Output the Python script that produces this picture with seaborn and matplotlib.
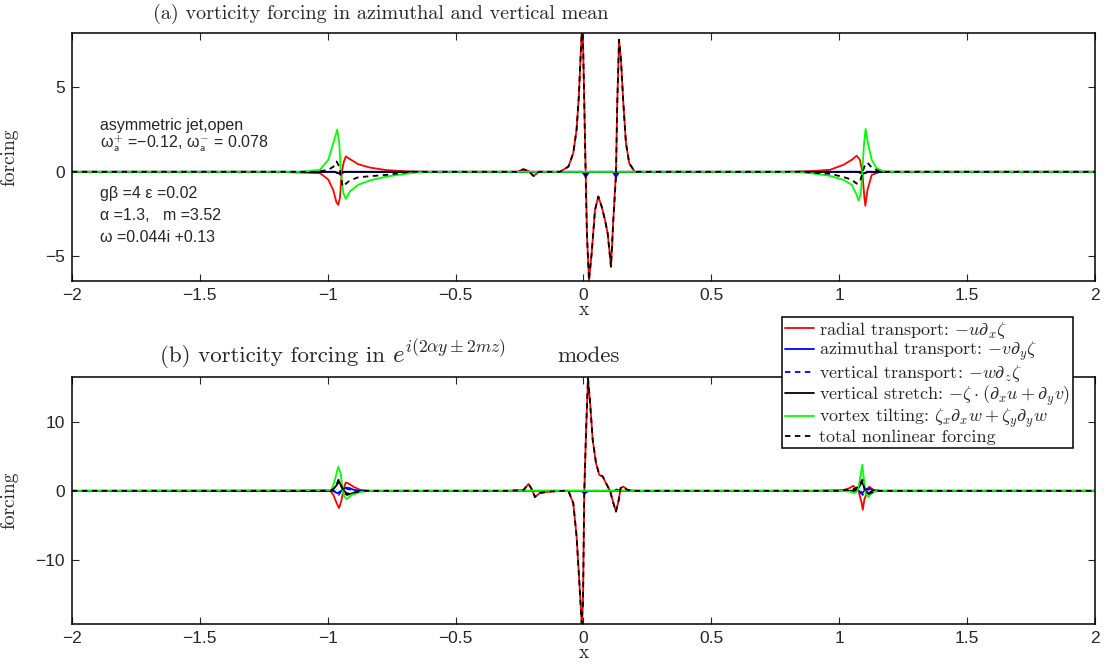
import numpy as np
import pandas as pd
import matplotlib
matplotlib.use('Agg')
import matplotlib.pyplot as plt
import seaborn as sns
from matplotlib.ticker import FuncFormatter

# ---- panel (a): azimuthal & vertical mean ----
a_red_x = [-2, -1.2, -1.03, -0.998, -0.978, -0.966, -0.959, -0.952, -0.945, -0.937, -0.929, -0.913,
           -0.881, -0.835, -0.77, -0.68, -0.6, -0.26, -0.235, -0.215, -0.195, -0.175, -0.092, -0.059,
           -0.04, -0.027, -0.018, -0.012, -0.007, -0.002, 0.003, 0.0085, 0.0137, 0.0215, 0.032, 0.045,
           0.058, 0.071, 0.084, 0.0945, 0.1075, 0.1166, 0.127, 0.132, 0.139, 0.1466, 0.1557, 0.166,
           0.179, 0.201, 0.3, 0.8, 0.85, 0.9, 0.964, 1.016, 1.049, 1.068, 1.081, 1.090, 1.098, 1.102,
           1.110, 1.127, 1.16, 2]
a_red_y = [0, 0, -0.08, -0.45, -1.1, -1.8, -1.95, -1.5, 0, 0.6, 0.91, 0.75,
           0.45, 0.25, 0.1, 0.02, 0, 0, 0.15, 0.05, -0.25, 0, 0, 0.31,
           1.1, 2.5, 4.5, 6.6, 8.2, 7.8, 4.1, 0, -3.8, -6.4, -4.8, -2.25,
           -1.46, -2.05, -2.84, -3.63, -5.6, -2.84, 0, 4.06, 7.8, 6.6, 4.06, 1.7,
           0.5, 0, 0, 0, 0.02, 0.05, 0.12, 0.41, 0.71, 0.95, 0.71, 0, -1.46, -2.0,
           -1.1, -0.18, 0, 0]

a_blue_x = [-2, -0.97, -0.952, -0.935, -0.005, 0.009, 0.022, 0.114, 0.127, 0.14, 1.075, 1.092, 1.11, 2]
a_blue_y = [0, 0, -0.12, 0, 0, -0.3, 0, 0, -0.3, 0, 0, -0.12, 0, 0]

a_bluedash_x = [-2, -0.97, -0.955, -0.94, 1.08, 1.095, 1.11, 2]
a_bluedash_y = [0, 0, 0.05, 0, 0, 0.05, 0, 0]

a_black_x = [-2, -0.975, -0.955, -0.93, -0.005, 0.009, 0.022, 0.114, 0.127, 0.14, 1.07, 1.095, 1.115, 2]
a_black_y = [0, 0, -0.1, 0, 0, -0.1, 0, 0, -0.1, 0, 0, -0.1, 0, 0]

a_green_x = [-2, -1.1, -1.03, -0.998, -0.978, -0.963, -0.955, -0.949, -0.939, -0.929, -0.913, -0.881,
             -0.835, -0.77, -0.678, -0.62, 0.75, 0.85, 0.90, 0.964, 1.016, 1.049, 1.068, 1.076,
             1.084, 1.090, 1.097, 1.103, 1.112, 1.127, 1.146, 1.179, 2]
a_green_y = [0, 0, 0.12, 0.71, 1.7, 2.49, 1.7, 0, -1.26, -1.6, -1.16, -0.77,
             -0.51, -0.28, -0.08, 0, 0, -0.03, -0.1, -0.24, -0.47, -0.77, -1.36, -1.7,
             -1.3, 0, 1.7, 2.53, 1.7, 0.71, 0.22, 0, 0]

a_total_x = [-2, -1.05, -1.0, -0.978, -0.965, -0.955, -0.942, -0.913, -0.88, -0.835, -0.77, -0.68,
             -0.26, -0.235, -0.215, -0.195, -0.175, -0.092, -0.059, -0.04, -0.027, -0.018, -0.012,
             -0.007, -0.002, 0.003, 0.0085, 0.0137, 0.0215, 0.032, 0.045, 0.058, 0.071, 0.084,
             0.0945, 0.1075, 0.1166, 0.127, 0.132, 0.139, 0.1466, 0.1557, 0.166, 0.179, 0.201,
             0.85, 0.9, 0.964, 1.016, 1.049, 1.068, 1.081, 1.090, 1.098, 1.110, 1.127, 1.16, 2]
a_total_y = [0, 0, 0.1, 0.3, 0.61, 0.3, -0.87, -0.5, -0.32, -0.26, -0.18, 0,
             0, 0.15, 0.05, -0.25, 0, 0, 0.31, 1.1, 2.5, 4.5, 6.6,
             8.2, 7.8, 4.1, -0.3, -3.8, -6.4, -4.8, -2.25, -1.46, -2.05, -2.84,
             -3.63, -5.6, -2.84, -0.3, 4.06, 7.8, 6.6, 4.06, 1.7, 0.5, 0,
             0, -0.05, -0.12, -0.3, -0.47, -0.7, -0.6, -0.1, 0.3, 0.55, 0.25, 0, 0]

# ---- panel (b): exp(i(2 alpha y +- 2 m z)) modes ----
b_red_x = [-2, -1.1, -1.017, -0.99, -0.978, -0.965, -0.956, -0.947, -0.939, -0.93, -0.92, -0.9,
           -0.874, -0.84, -0.3, -0.235, -0.215, -0.2, -0.19, -0.17, -0.13, -0.08, -0.059, -0.04,
           -0.027, -0.016, -0.007, -0.002, 0.003, 0.0098, 0.0176, 0.025, 0.036, 0.049, 0.062, 0.075,
           0.088, 0.104, 0.117, 0.127, 0.138, 0.145, 0.156, 0.171, 0.2, 0.9, 1.016, 1.04, 1.055,
           1.075, 1.088, 1.092, 1.098, 1.11, 1.117, 1.134, 1.16, 2]
b_red_y = [0, 0, 0.1, 0, -0.58, -1.8, -2.5, -1.5, 0.1, 1.2, 1.1, 0.6,
           0.15, 0, 0, 0.1, 1.0, 0.1, -0.9, -0.3, -0.1, 0, 0, -1.8,
           -6.6, -13.4, -19.2, -16.3, -0.3, 8.4, 16.3, 13.2, 7.4, 4.0, 2.3, 2.1,
           1.1, 0, -1.8, -3.0, -1.3, 0.4, 0.62, 0.15, 0, 0, 0.1, 0.4, 0.72,
           0, -1.8, -2.75, -1.3, 0, 0.6, 0.15, 0, 0]

b_blue_x = [-2, -0.98, -0.962, -0.948, -0.93, -0.915, -0.895, -0.87, -0.01, 0.005, 0.02, 0.12, 0.13,
            0.14, 1.05, 1.07, 1.088, 1.1, 1.115, 1.135, 2]
b_blue_y = [0, 0, -0.35, 0, 0.45, 0.4, 0.1, 0, 0, -0.35, 0, 0, 0.2,
            0, 0, 0.3, -0.45, 0.1, 0.4, 0, 0]

b_bluedash_x = [-2, -0.975, -0.958, -0.945, -0.93, -0.91, -0.885, 1.06, 1.08, 1.092, 1.105, 1.12, 1.14, 2]
b_bluedash_y = [0, 0, -0.6, 0.1, 0.35, 0.15, 0, 0, 0.2, -0.6, 0.3, 0.15, 0, 0]

b_black_x = [-2, -0.985, -0.97, -0.955, -0.942, -0.928, -0.913, -0.89, -0.86, 1.06, 1.075, 1.09, 1.1,
             1.112, 1.13, 2]
b_black_y = [0, 0, 0.6, 1.35, 0.2, -0.3, -0.45, -0.2, 0, 0, 0.4, 1.35, 0.1, -0.4, 0, 0]

b_green_x = [-2, -0.985, -0.972, -0.959, -0.949, -0.943, -0.936, -0.926, -0.906, -0.87, -0.84, 1.0,
             1.04, 1.06, 1.072, 1.08, 1.09, 1.097, 1.103, 1.113, 1.127, 1.145, 2]
b_green_y = [0, 0.1, 1.6, 3.5, 2.5, 0.1, -0.8, -1.2, -0.58, -0.15, 0, 0,
             -0.1, -0.3, 0, 1.5, 3.77, 1.5, -0.4, -0.9, -0.33, 0, 0]

b_total_x = [-2, -0.99, -0.97, -0.958, -0.948, -0.937, -0.925, -0.905, -0.88, -0.85,
             -0.3, -0.235, -0.215, -0.2, -0.19, -0.17, -0.13, -0.08, -0.059, -0.04,
             -0.027, -0.016, -0.007, -0.002, 0.003, 0.0098, 0.0176, 0.025, 0.036, 0.049, 0.062, 0.075,
             0.088, 0.104, 0.117, 0.127, 0.138, 0.145, 0.156, 0.171, 0.2,
             1.0, 1.04, 1.06, 1.075, 1.09, 1.1, 1.112, 1.125, 1.15, 2]
b_total_y = [0, 0, 0.5, 1.6, 0.9, -0.3, -0.6, -0.35, -0.1, 0,
             0, 0.1, 1.0, 0.1, -0.9, -0.3, -0.1, 0, 0, -1.8,
             -6.6, -13.4, -19.2, -16.3, -0.3, 8.4, 16.3, 13.2, 7.4, 4.0, 2.3, 2.1,
             1.1, 0, -1.8, -3.0, -1.3, 0.4, 0.62, 0.15, 0,
             0, 0.2, 0.3, 0.6, 1.6, 0.2, -0.5, -0.3, 0, 0]

labels = [r'radial transport: $-u\partial_x\zeta$',
          r'azimuthal transport: $-v\partial_y\zeta$',
          r'vertical transport: $-w\partial_z\zeta$',
          r'vertical stretch: $-\zeta\cdot(\partial_x u+\partial_y v)$',
          r'vortex tilting: $\zeta_x\partial_x w+\zeta_y\partial_y w$',
          r'total nonlinear forcing']
colors = ['#ff0000', '#0000ff', '#0000ff', '#000000', '#00ff00', '#000000']
dashed = [False, False, True, False, False, True]

sns.set_style('ticks')
plt.rcParams['mathtext.fontset'] = 'cm'
plt.rcParams['axes.unicode_minus'] = True
SANS = ['Liberation Sans', 'DejaVu Sans']
SERIF = ['cmr10', 'DejaVu Serif']

fig = plt.figure(figsize=(11.11, 6.66), dpi=100)
ax1 = fig.add_axes([0.0648, 0.578, 0.9208, 0.3725])
ax2 = fig.add_axes([0.0648, 0.0631, 0.9208, 0.3708])

panels = [
    (ax1, [(a_red_x, a_red_y), (a_blue_x, a_blue_y), (a_bluedash_x, a_bluedash_y),
           (a_black_x, a_black_y), (a_green_x, a_green_y), (a_total_x, a_total_y)]),
    (ax2, [(b_red_x, b_red_y), (b_blue_x, b_blue_y), (b_bluedash_x, b_bluedash_y),
           (b_black_x, b_black_y), (b_green_x, b_green_y), (b_total_x, b_total_y)]),
]

for ax, series in panels:
    for (xs, ys), c, d in zip(series, colors, dashed):
        df = pd.DataFrame({'x': xs, 'forcing': ys})
        sns.lineplot(data=df, x='x', y='forcing', ax=ax, color=c, lw=1.3,
                     linestyle=(0, (3, 2.5)) if d else '-', estimator=None, sort=False)

fmt = FuncFormatter(lambda v, p: ('%g' % v).replace('-', '\u2212'))
for ax in (ax1, ax2):
    ax.set_xlim(-2, 2)
    ax.set_xticks(np.arange(-2, 2.01, 0.5))
    ax.xaxis.set_major_formatter(fmt)
    ax.yaxis.set_major_formatter(fmt)
    ax.tick_params(direction='in', top=True, right=True, length=5, width=0.8, pad=5)
    for lab in ax.get_xticklabels() + ax.get_yticklabels():
        lab.set_family(SANS)
        lab.set_fontsize(12.5)
    for s in ax.spines.values():
        s.set_linewidth(1.1)
        s.set_color('black')
    ax.set_xlabel('x', family=SERIF, fontsize=14)
    ax.set_ylabel('forcing', family=SERIF, fontsize=14)
    ax.xaxis.set_label_coords(0.5, -0.08)
    ax.yaxis.set_label_coords(-0.052, 0.5)

ax1.set_ylim(-6.45, 8.2)
ax1.set_yticks([-5, 0, 5])
ax2.set_ylim(-19.3, 16.5)
ax2.set_yticks([-10, 0, 10])

# parameter annotations
ann = dict(family=SANS, fontsize=11.5, va='baseline', ha='left')
ax1.text(-1.89, 2.45, 'asymmetric jet,open', **ann)
ax1.text(-1.89, 1.42, 'ω$_{\\mathsf{a}}^{+}$ =\u22120.12, ω$_{\\mathsf{a}}^{-}$ = 0.078', **ann)
ax1.text(-1.89, -1.54, 'gβ =4 ε =0.02', **ann)
ax1.text(-1.89, -2.84, 'α =1.3,   m =3.52', **ann)
ax1.text(-1.89, -4.14, 'ω =0.044i +0.13', **ann)

fig.text(381 / 1111, 1 - 14 / 666, '(a) vorticity forcing in azimuthal and vertical mean',
         family=SERIF, fontsize=14.5, ha='center', va='center')
# title (b) in three pieces (latex-style spacing of the original)
tb_y = 1 - 362 / 666
fig.text(160 / 1111, tb_y, '(b) vorticity forcing in', family=SERIF, fontsize=16.5,
         ha='left', va='baseline')
fig.text(392 / 1111, tb_y, r'$e^{i(2\alpha y\pm 2mz)}$', fontsize=18, ha='left', va='baseline')
fig.text(620 / 1111, tb_y, 'modes', family=SERIF, fontsize=16.5, ha='right', va='baseline')

handles = ax1.get_lines()[:6]
leg = fig.legend(handles, labels, loc='upper left', bbox_to_anchor=(782 / 1111, 1 - 317 / 666),
                 prop={'family': SERIF, 'size': 13}, frameon=True, fancybox=False,
                 edgecolor='black', framealpha=1, borderaxespad=0, borderpad=0.15,
                 handlelength=1.6, handletextpad=0.3, labelspacing=-0.03)
leg.get_frame().set_linewidth(1.1)

fig.savefig('out.png', dpi=100)
